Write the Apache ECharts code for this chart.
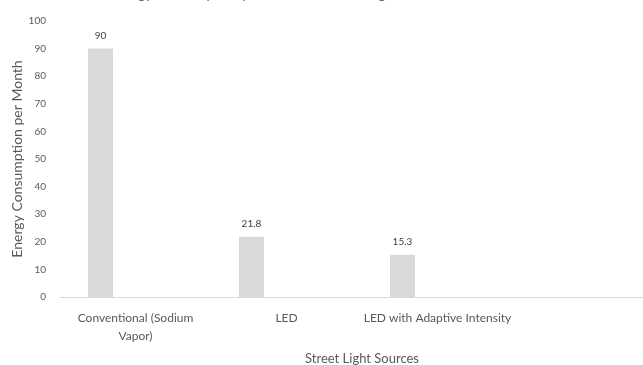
<!DOCTYPE html>
<html>
<head>
<meta charset="utf-8">
<script src="https://cdn.jsdelivr.net/npm/echarts@6/dist/echarts.min.js"></script>
<style>
  html, body { margin: 0; padding: 0; background: #fff; }
  #chart { width: 643px; height: 365px; }
</style>
</head>
<body>
<div id="chart"></div>
<script>
// categories (last one is an empty slot, like the source sheet)
const categories = ['Conventional (Sodium\nVapor)', 'LED', 'LED with Adaptive Intensity', ''];
const energyValues = [90, 21.8, 15.3, null];
// empty companion series that reserves the slot to the right of each bar
const emptyValues = [null, null, null, null];
const yTicks = { min: 0, max: 100, interval: 10 };
const chartTitle = 'Energy Consumption per Month of Street Light Sources';

const chart = echarts.init(document.getElementById('chart'));

const option = {
    animation: false,
    textStyle: { fontFamily: 'Lato' },
    // title sits mostly above the visible area, as in the cropped original
    graphic: [{
        type: 'text',
        left: 110,
        top: -13,
        style: {
            text: chartTitle,
            font: '14px Lato',
            fill: '#595959'
        }
    }],
    grid: { left: 60, width: 604, top: 21, bottom: 68, outerBoundsMode: 'none', containLabel: false },
    xAxis: {
        type: 'category',
        data: categories,
        name: 'Street Light Sources',
        nameLocation: 'middle',
        nameGap: 55,
        nameTextStyle: { fontSize: 13, color: '#595959' },
        axisLine: { lineStyle: { color: '#d9d9d9', width: 1 } },
        axisTick: { show: false },
        axisLabel: { fontSize: 12, color: '#595959', margin: 12, lineHeight: 18, interval: 0 }
    },
    yAxis: {
        type: 'value',
        min: yTicks.min,
        max: yTicks.max,
        interval: yTicks.interval,
        name: 'Energy Consumption per Month',
        nameLocation: 'middle',
        nameGap: 36,
        nameMoveOverlap: false,
        nameTextStyle: { fontSize: 14, color: '#595959' },
        axisLine: { show: false },
        axisTick: { show: false },
        splitLine: { show: false },
        axisLabel: { fontSize: 10, color: '#595959', margin: 14 }
    },
    series: [
        {
            name: 'Energy',
            type: 'bar',
            data: energyValues,
            barWidth: 25,
            barGap: '180%',
            itemStyle: { color: '#d9d9d9' },
            label: {
                show: true,
                position: 'top',
                distance: 8,
                fontSize: 10,
                color: '#404040'
            }
        },
        {
            name: 'Empty',
            type: 'bar',
            data: emptyValues,
            barWidth: 25,
            itemStyle: { color: '#d9d9d9' }
        }
    ]
};

chart.setOption(option);
</script>
</body>
</html>
